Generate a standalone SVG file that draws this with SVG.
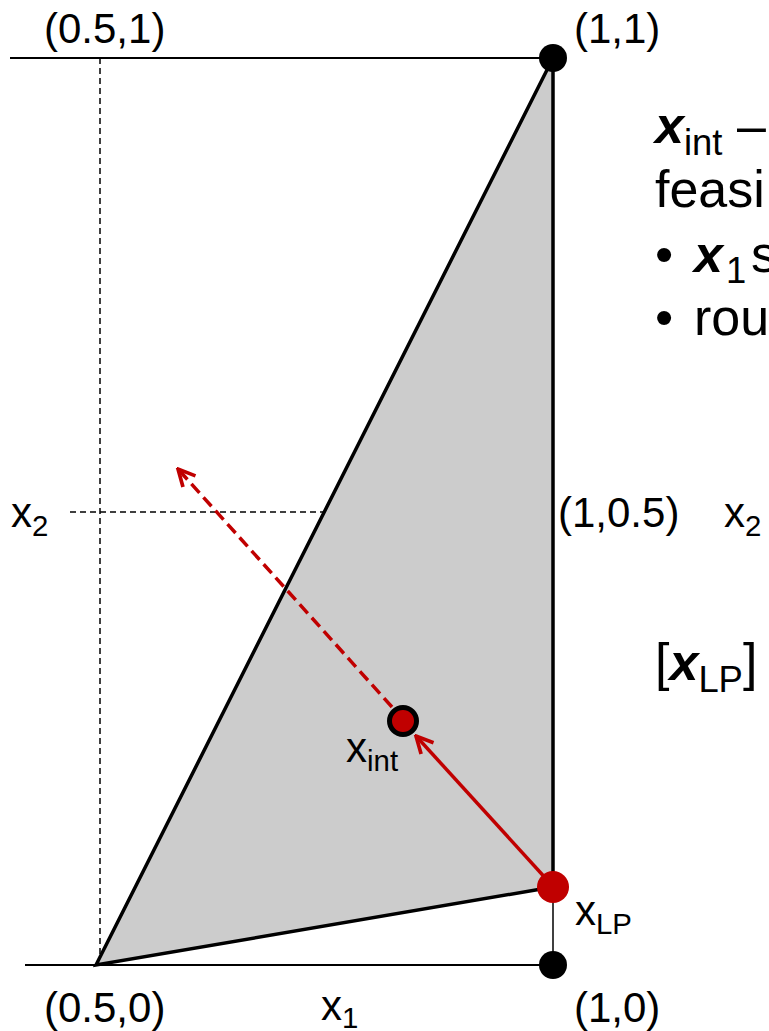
<svg xmlns="http://www.w3.org/2000/svg" width="769" height="1031" viewBox="0 0 769 1031">
<defs>
<style>
text{font-family:"Liberation Sans",Arial,sans-serif;fill:#000}
.lbl{font-size:42px}
.big{font-size:52px}
.sub{font-size:0.7em}
.bi{font-weight:bold;font-style:italic}
.axis{stroke:#000;stroke-width:2;fill:none}
.dash{stroke:#000;stroke-width:1.5;stroke-dasharray:6 4;fill:none}
.red{stroke:#c00000;stroke-width:3.5;fill:none}
</style>
<marker id="ah" viewBox="0 0 20 20" refX="18" refY="10" markerWidth="6" markerHeight="6" markerUnits="strokeWidth" orient="auto">
<path d="M2,2 L18,10 L2,18" fill="none" stroke="#c00000" stroke-width="3.5"/>
</marker>
</defs>
<g id="axes">
<line class="axis" x1="10" y1="58" x2="553" y2="58"/>
<line class="axis" x1="25" y1="965" x2="553" y2="965"/>
<line class="dash" x1="100" y1="58" x2="100" y2="965"/>
<line class="dash" x1="70" y1="512" x2="553" y2="512"/>
<line class="axis" x1="553" y1="887" x2="553" y2="965" style="stroke-width:1.5"/>
</g>
<g id="region">
<polygon points="96,965 553,58 553,887" fill="#cccccc" stroke="#000" stroke-width="3.5" stroke-linejoin="miter"/>
</g>
<g id="connectors">
<line class="red" x1="549" y1="882" x2="416" y2="736" marker-end="url(#ah)"/>
<line class="red" x1="392" y1="707" x2="178" y2="469" stroke-dasharray="12 6" marker-end="url(#ah)"/>
</g>
<g id="p11"><circle cx="553" cy="58" r="14" fill="#000"/></g>
<g id="p10"><circle cx="553" cy="965" r="14" fill="#000"/></g>
<g id="xlp"><circle cx="553" cy="887" r="16" fill="#c00000"/></g>
<g id="xint"><circle cx="403" cy="721" r="13.5" fill="#c00000" stroke="#000" stroke-width="5"/></g>
<g id="labels">
<text class="lbl" x="44" y="43">(0.5,1)</text>
<text class="lbl" x="574" y="43">(1,1)</text>
<text class="lbl" x="558" y="527">(1,0.5)</text>
<text class="lbl" x="724" y="527">x<tspan class="sub" dy="9">2</tspan></text>
<text class="lbl" x="11" y="527">x<tspan class="sub" dy="9">2</tspan></text>
<text class="lbl" x="44" y="1022">(0.5,0)</text>
<text class="lbl" x="321" y="1020">x<tspan class="sub" dy="8">1</tspan></text>
<text class="lbl" x="574" y="1022">(1,0)</text>
<text class="lbl" x="346" y="762">x<tspan class="sub" dy="9">int</tspan></text>
<text class="lbl" x="575" y="925">x<tspan class="sub" dy="9">LP</tspan></text>
</g>
<g id="notes">
<text class="big" x="655" y="143"><tspan class="bi">x</tspan><tspan class="sub" x="684" dy="12">int</tspan><tspan x="737" dy="-12">–</tspan></text>
<text class="big" x="655" y="207">feasi</text>
<text class="big" x="655" y="272">• <tspan class="bi" x="694">x</tspan><tspan class="sub" x="726" dy="11">1</tspan><tspan x="751" dy="-11">s</tspan></text>
<text class="big" x="655" y="335">• <tspan x="694">rou</tspan></text>
<text class="big" x="655" y="680">[<tspan class="bi">x</tspan><tspan class="sub" dy="12">LP</tspan><tspan dy="-12">]</tspan></text>
</g>
</svg>
